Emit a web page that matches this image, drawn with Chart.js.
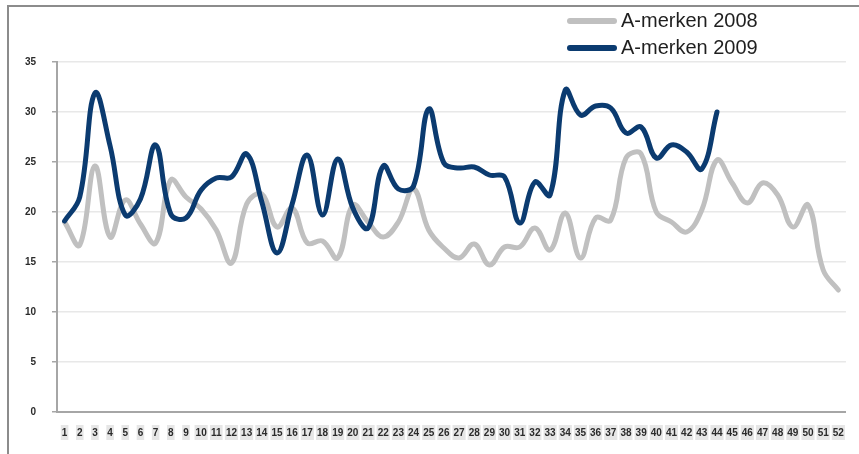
<!DOCTYPE html>
<html>
<head>
<meta charset="utf-8">
<script src="https://cdn.jsdelivr.net/npm/chart.js@4/dist/chart.umd.min.js"></script>
<style>
  html, body { margin: 0; padding: 0; background: #fff; }
  #wrap { position: relative; width: 859px; height: 454px; overflow: hidden; }
  #frame { position: absolute; left: 7px; top: 5px; right: 0; bottom: 0;
           border-top: 2px solid #8c8c8c; border-left: 2px solid #8c8c8c; pointer-events: none; }
  #chart { position: absolute; left: 0; top: 0; }
  #legend { position: absolute; left: 567px; top: 7px; font-family: "Liberation Sans", Arial, sans-serif;
            font-size: 20px; color: #1f1f1f; }
  .item { display: flex; align-items: center; height: 27px; }
  .swatch { width: 50px; height: 6px; border-radius: 3px; margin-right: 4px; }
</style>
</head>
<body>
<div id="wrap">
  <canvas id="chart" width="859" height="454"></canvas>
  <div id="frame"></div>
  <div id="legend"></div>
</div>
<script>
// Week numbers 1..52
const weeks = ["1","2","3","4","5","6","7","8","9","10","11","12","13","14","15","16","17","18","19","20",
  "21","22","23","24","25","26","27","28","29","30","31","32","33","34","35","36","37","38","39","40",
  "41","42","43","44","45","46","47","48","49","50","51","52"];

const name2008 = "A-merken 2008";
const name2009 = "A-merken 2009";

const values2008 = [19.0, 16.7, 24.6, 17.5, 21.2, 18.8, 16.9, 23.2, 21.5, 20.3,
  18.2, 14.9, 20.8, 21.8, 18.5, 20.4, 16.9, 17.1, 15.4, 20.7,
  19.0, 17.5, 19.0, 22.3, 18.2, 16.4, 15.4, 16.8, 14.7, 16.5,
  16.5, 18.4, 16.2, 19.9, 15.4, 19.4, 19.2, 25.4, 25.8, 20.0,
  19.0, 18.0, 20.2, 25.2, 22.9, 20.9, 22.9, 21.7, 18.5, 20.7,
  14.2, 12.2];

const values2009 = [19.1, 21.5, 31.9, 26.6, 19.7, 21.3, 26.7, 19.8, 19.4, 22.2,
  23.4, 23.5, 25.8, 21.0, 15.9, 20.8, 25.7, 19.7, 25.3, 20.4,
  18.4, 24.6, 22.3, 22.6, 30.3, 24.9, 24.4, 24.5, 23.7, 23.5,
  18.9, 23.0, 21.7, 32.2, 29.7, 30.6, 30.4, 27.9, 28.5, 25.4,
  26.7, 26.0, 24.3, 30.0];

const colour2008 = "#c0c0c0";
const colour2009 = "#0b3b70";

const tickFont = { family: "'Liberation Sans', Arial, sans-serif", size: 10, weight: "bold" };

// Legend as plain HTML, stacked at the top right
const legendEl = document.getElementById("legend");
[[name2008, colour2008], [name2009, colour2009]].forEach(([label, colour]) => {
  const row = document.createElement("div");
  row.className = "item";
  const sw = document.createElement("span");
  sw.className = "swatch";
  sw.style.background = colour;
  const tx = document.createElement("span");
  tx.textContent = label;
  row.appendChild(sw);
  row.appendChild(tx);
  legendEl.appendChild(row);
});

new Chart(document.getElementById("chart"), {
  type: "line",
  data: {
    labels: weeks,
    datasets: [
      {
        label: name2009, data: values2009, order: 0,
        borderColor: colour2009, backgroundColor: colour2009, borderWidth: 5,
        tension: 0.4, pointRadius: 0, fill: false,
        borderCapStyle: "round", borderJoinStyle: "round"
      },
      {
        label: name2008, data: values2008, order: 1,
        borderColor: colour2008, backgroundColor: colour2008, borderWidth: 5,
        tension: 0.4, pointRadius: 0, fill: false,
        borderCapStyle: "round", borderJoinStyle: "round"
      }
    ]
  },
  options: {
    responsive: false,
    animation: false,
    events: [],
    layout: { padding: { top: 62, right: 7, left: 10, bottom: 0 } },
    plugins: { legend: { display: false }, tooltip: { enabled: false } },
    scales: {
      x: {
        offset: true,
        grid: { display: false, drawTicks: false, tickLength: 0 },
        border: { display: true, color: "#a6a6a6", width: 2 },
        ticks: {
          autoSkip: false, maxRotation: 0, minRotation: 0,
          color: "#2b2b2b", font: tickFont, padding: 15,
          showLabelBackdrop: true, backdropColor: "#e6e6e6",
          backdropPadding: { top: 2, bottom: 1, left: 1, right: 1 }
        },
        afterFit: s => { s.height = 42; }
      },
      y: {
        min: 0, max: 35,
        grid: { color: "#e8e8e8", lineWidth: 1.5, tickLength: 5, tickColor: "#a6a6a6" },
        border: { display: true, color: "#a6a6a6", width: 2 },
        ticks: { stepSize: 5, color: "#2b2b2b", font: tickFont, padding: 16 },
        afterFit: s => { s.width = 47; }
      }
    }
  }
});
</script>
</body>
</html>
